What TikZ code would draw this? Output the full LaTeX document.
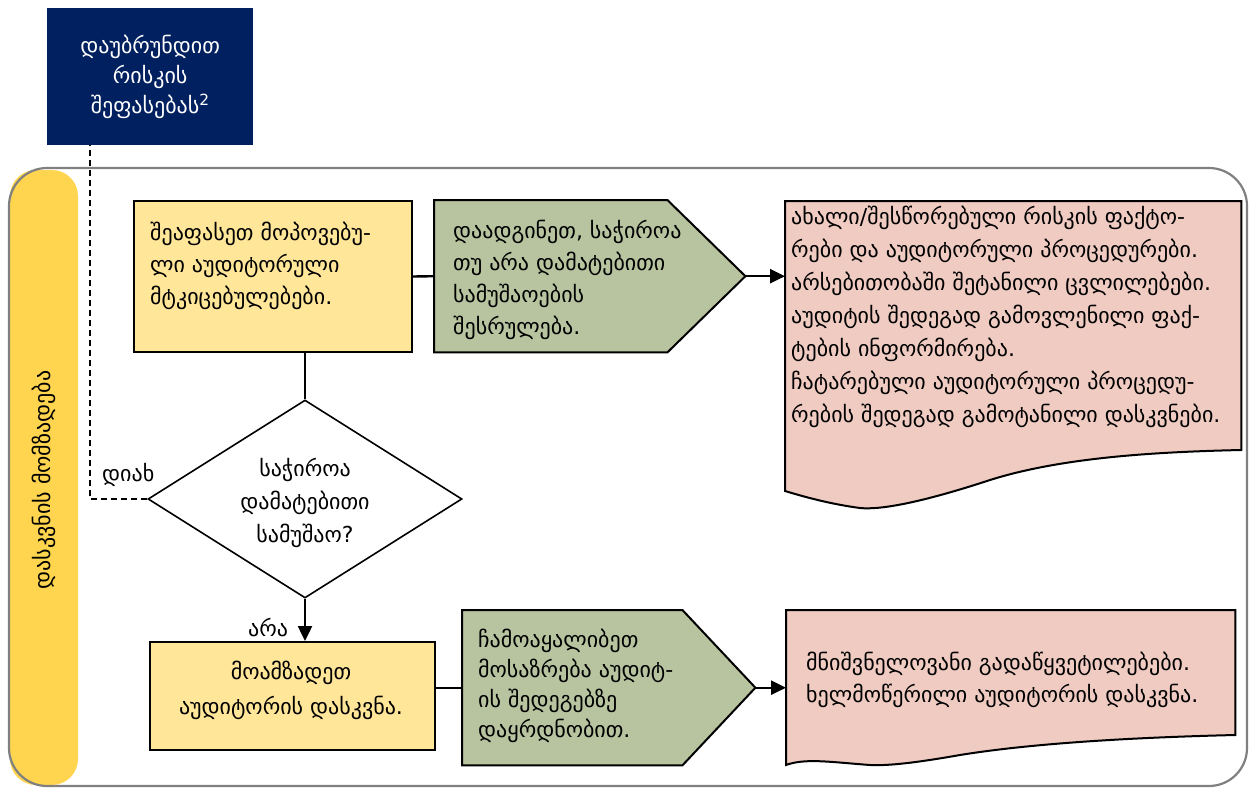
\documentclass[tikz,border=0pt]{standalone}
\usepackage{fontspec}
\setmainfont{DejaVu Sans}
\usetikzlibrary{shapes.geometric,arrows.meta,calc}

\definecolor{navy}{HTML}{002060}
\definecolor{bandyellow}{HTML}{FFD54F}
\definecolor{lightyellow}{HTML}{FFE699}
\definecolor{sage}{HTML}{B8C4A0}
\definecolor{rosepink}{HTML}{EFCBC2}
\definecolor{framegray}{HTML}{808080}

\newcommand\gefont{\fontsize{22}{32}\selectfont}

\tikzset{
  conn/.style={line width=2.4pt},
  arr/.style={conn,-{Triangle[length=15pt,width=14pt]}},
  boxline/.style={draw=black,line width=2pt},
  area/.style={inner sep=0pt,anchor=north west},
  txt/.style={font=\gefont,align=left,inner sep=0pt,anchor=west},
  ctxt/.style={font=\gefont,align=center,inner sep=0pt},
}

\begin{document}
\begin{tikzpicture}[x=1pt,y=-1pt]
\useasboundingbox (0,0) rectangle (1249,787);

% swim lane: yellow band and rounded frame
\fill[bandyellow,rounded corners=26pt] (10,170) rectangle (78,785);
\draw[framegray,line width=2.2pt,rounded corners=38pt] (9,168) rectangle (1247,786);
\node[ctxt,rotate=90,font=\fontsize{22}{24}\selectfont] (lane) at (44,480) {დასკვნის მომზადება};

% return step
\node[area,fill=navy,minimum width=206pt,minimum height=137pt] (top) at (47,8) {};
\node[ctxt,text=white,font=\fontsize{22}{30}\selectfont] (topt) at (top.center)
  {დაუბრუნდით\\რისკის\\შეფასებას\textsuperscript{2}};

% first row
\node[area,boxline,fill=lightyellow,minimum width=278pt,minimum height=151pt] (b1) at (133,200) {};
\node[txt] (b1t) at (150,266) {შეაფასეთ მოპოვებუ-\\ლი აუდიტორული\\მტკიცებულებები.};

\node[area,minimum width=311pt,minimum height=152pt] (g1) at (434,200) {};
\draw[boxline,fill=sage] (g1.north west) -- ($(g1.north east)+(-78,0)$) -- (g1.east)
  -- ($(g1.south east)+(-78,0)$) -- (g1.south west) -- cycle;
\node[txt] (g1t) at (453,280) {დაადგინეთ, საჭიროა\\თუ არა დამატებითი\\სამუშაოების\\შესრულება.};

\node[area,minimum width=456pt,minimum height=300pt] (p1) at (785,201) {};
\draw[boxline,fill=rosepink] (p1.north west) -- (p1.north east) -- ($(p1.north east)+(0,249)$)
  .. controls (1150,452) and (1060,458) .. (990,480)
  .. controls (920,503) and (880,510) .. (860,508)
  .. controls (830,504) and (805,497) .. ($(p1.north west)+(0,290)$) -- cycle;
\node[txt,font=\fontsize{22}{33}\selectfont] (p1t) at (791,317)
  {ახალი/შესწორებული რისკის ფაქტო-\\რები და აუდიტორული პროცედურები.\\არსებითობაში შეტანილი ცვლილებები.\\აუდიტის შედეგად გამოვლენილი ფაქ-\\ტების ინფორმირება.\\ჩატარებული აუდიტორული პროცედუ-\\რების შედეგად გამოტანილი დასკვნები.};

% decision
\node[draw=black,line width=1.6pt,diamond,minimum width=314pt,minimum height=198pt,inner sep=0pt] (dia) at (305,499) {};
\node[ctxt,font=\fontsize{22}{33}\selectfont] (diat) at (305,503) {საჭიროა\\დამატებითი\\სამუშაო?};

% second row
\node[area,boxline,fill=lightyellow,minimum width=285pt,minimum height=108pt] (b2) at (149,641) {};
\node[ctxt,font=\fontsize{22}{35}\selectfont] (b2t) at (291,690) {მოამზადეთ\\აუდიტორის დასკვნა.};

\node[area,minimum width=293pt,minimum height=155pt] (g2) at (462,610) {};
\draw[boxline,fill=sage] (g2.north west) -- ($(g2.north east)+(-73,0)$) -- (g2.east)
  -- ($(g2.south east)+(-73,0)$) -- (g2.south west) -- cycle;
\node[txt,font=\fontsize{22}{30}\selectfont] (g2t) at (478,686) {ჩამოაყალიბეთ\\მოსაზრება აუდიტ-\\ის შედეგებზე\\დაყრდნობით.};

\node[area,minimum width=449pt,minimum height=155pt] (p2) at (786,610) {};
\draw[boxline,fill=rosepink] (p2.north west) -- (p2.north east) -- ($(p2.north east)+(0,125)$)
  .. controls (1150,737) and (1040,742) .. (960,755)
  .. controls (920,762) and (890,766) .. (870,765)
  .. controls (830,762) and (805,758) .. ($(p2.north west)+(0,155)$) -- cycle;
\node[txt] (p2t) at (806,680) {მნიშვნელოვანი გადაწყვეტილებები.\\ხელმოწერილი აუდიტორის დასკვნა.};

% connectors
\coordinate (yescorner) at (90,499);
\draw[conn] (b1.east) -- (g1.west);
\draw[arr] (g1.east) -- (g1.east -| p1.west);
\draw[conn] (dia.north) -- (dia.north |- b1.south);
\draw[line width=1.5pt,dash pattern=on 6pt off 4pt] (dia.west) -- (yescorner) -- (yescorner |- top.south);
\node[font=\gefont,anchor=south west,inner sep=0pt] (yes) at (102,487) {დიახ};
\draw[arr] (dia.south) -- (dia.south |- b2.north);
\node[font=\gefont,anchor=south,inner sep=0pt] (no) at (268,637) {არა};
\draw[conn] (b2.east |- g2.west) -- (g2.west);
\draw[arr] (g2.east) -- (g2.east -| p2.west);
\end{tikzpicture}
\end{document}
